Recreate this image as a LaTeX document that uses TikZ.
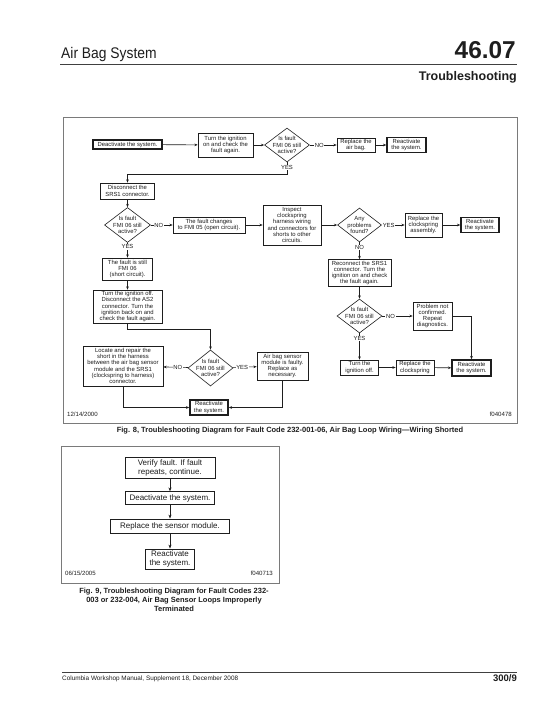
\documentclass[tikz,border=0pt]{standalone}
\usepackage{fontspec}
\setmainfont{Liberation Sans}
\newfontfamily\hdrfont[FakeStretch=0.9]{Liberation Sans}
\usetikzlibrary{shapes.geometric,arrows.meta}
\definecolor{ink}{HTML}{1E1E1E}
\definecolor{framec}{HTML}{7A7A7A}
\tikzset{
  bx/.style={draw=ink, line width=0.6pt, fill=white, text=ink, align=center, inner sep=0.5pt,
    font=\fontsize{5.9}{6.3}\selectfont},
  rbx/.style={bx, line width=1.4pt},
  dia/.style={diamond, draw=ink, line width=0.6pt, fill=white, inner sep=0pt,
    minimum width=45pt, minimum height=34pt},
  dtxt/.style={align=center, text=ink, inner sep=0pt, font=\fontsize{5.9}{6.3}\selectfont},
  yn/.style={fill=white, text=ink, inner sep=0.6pt, font=\fontsize{5.9}{6}\selectfont},
  arr/.style={draw=ink, line width=0.6pt, -{Stealth[length=3.3pt,width=2.6pt]}},
  bx9/.style={draw=ink, line width=0.8pt, fill=white, text=ink, align=center, inner sep=1pt,
    font=\fontsize{8}{9.1}\selectfont},
  arr9/.style={draw=ink, line width=0.8pt, -{Stealth[length=4pt,width=3pt]}},
  small/.style={text=ink, inner sep=0pt, font=\fontsize{6.1}{7}\selectfont},
  frm/.style={draw=framec, line width=0.9pt},
  rule/.style={draw=ink!85, line width=0.8pt},
}
\begin{document}
\begin{tikzpicture}[x=1pt, y=-1pt]
\useasboundingbox (0,0) rectangle (536,715);
\fill[white] (0,0) rectangle (536,715);

% ---------- header ----------
\node[anchor=base west, inner sep=0pt, text=ink, font=\hdrfont\fontsize{15.4}{16}\selectfont] (htitle) at (61,58.5) {Air Bag System};
\node[anchor=base east, inner sep=0pt, text=ink, font=\bfseries\fontsize{24.4}{26}\selectfont] (hnum) at (516,58) {46.07};
\draw[rule] (60,64) -- (517,64);
\node[anchor=base east, inner sep=0pt, text=ink, font=\bfseries\fontsize{12.5}{14}\selectfont] (hsub) at (517,80.5) {Troubleshooting};

% ---------- Fig. 8 ----------
\draw[frm] (63,117) rectangle (517,423);

\node[rbx, minimum width=69pt, minimum height=9pt] (n1) at (127.5,144.5) {Deactivate the system.};
\node[bx, minimum width=55pt, minimum height=24pt] (n2) at (225.5,145) {Turn the ignition\\on and check the\\fault again.};
\node[dia, label={[dtxt,name=d1t]center:{Is fault\\FMI 06 still\\active?}}] (d1) at (287,145) {};
\node[bx, minimum width=38pt, minimum height=14pt] (n3) at (356,145) {Replace the\\air bag.};
\node[rbx, minimum width=39pt, minimum height=15pt] (n4) at (406.5,145) {Reactivate\\the system.};

\node[bx, minimum width=54pt, minimum height=16pt] (n5) at (127.5,191) {Disconnect the\\SRS1 connector.};
\node[dia, minimum width=46pt, minimum height=35pt, label={[dtxt,name=d2t]center:{Is fault\\FMI 06 still\\active?}}] (d2) at (127.5,225) {};
\node[bx, minimum width=72pt, minimum height=16pt] (n6) at (209,225) {The fault changes\\to FMI 05 (open circuit).};
\node[bx, minimum width=58pt, minimum height=40pt] (n7) at (292,225) {Inspect\\clockspring\\harness wiring\\and connectors for\\shorts to other\\circuits.};
\node[dia, minimum width=44pt, label={[dtxt,name=d3t]center:{Any\\problems\\found?}}] (d3) at (359.5,225) {};
\node[bx, minimum width=37pt, minimum height=24pt] (n8) at (423.5,225) {Replace the\\clockspring\\assembly.};
\node[rbx, minimum width=38pt, minimum height=15pt] (n9) at (480,225) {Reactivate\\the system.};

\node[bx, minimum width=50pt, minimum height=22pt] (n10) at (127.5,269) {The fault is still\\FMI 06\\(short circuit).};
\node[bx, minimum width=69pt, minimum height=33pt] (n11) at (127.5,306.5) {Turn the ignition off.\\Disconnect the AS2\\connector. Turn the\\ignition back on and\\check the fault again.};

\node[bx, minimum width=63pt, minimum height=27pt] (n12) at (359.5,273) {Reconnect the SRS1\\connector. Turn the\\ignition on and check\\the fault again.};
\node[dia, label={[dtxt,name=d4t]center:{Is fault\\FMI 06 still\\active?}}] (d4) at (359.5,316) {};
\node[bx, minimum width=39pt, minimum height=28pt] (n13) at (432.5,316) {Problem not\\confirmed.\\Repeat\\diagnostics.};
\node[bx, minimum width=38pt, minimum height=15pt] (n14) at (359.5,367.5) {Turn the\\ignition off.};
\node[bx, minimum width=38pt, minimum height=15pt] (n15) at (415,367.5) {Replace the\\clockspring};
\node[rbx, minimum width=39pt, minimum height=16pt] (n16) at (471.5,368) {Reactivate\\the system.};

\node[dia, minimum height=36pt, label={[dtxt,name=d5t]center:{Is fault\\FMI 06 still\\active?}}] (d5) at (210.5,368) {};
\node[bx, minimum width=80pt, minimum height=40pt] (n17) at (123,366) {Locate and repair the\\short in the harness\\between the air bag sensor\\module and the SRS1\\(clockspring to harness)\\connector.};
\node[bx, minimum width=51pt, minimum height=28pt] (n18) at (282.5,366) {Air bag sensor\\module is faulty.\\Replace as\\necessary.};
\node[rbx, minimum width=38pt, minimum height=15pt] (n19) at (209,407.5) {Reactivate\\the system.};

% connectors fig 8
\draw[arr] (n1) -- (n2);
\draw[arr] (n2) -- (d1);
\draw[arr] (d1) -- node[yn,pos=0.35] (l1) {NO} (n3);
\draw[arr] (n3) -- (n4);
\draw[arr] (d1.south) -- node[yn,pos=0.45] (l2) {YES} ++(0,12) -| (n5.north);
\draw[arr] (n5) -- (d2);
\draw[arr] (d2) -- node[yn,pos=0.37] (l3) {NO} (n6);
\draw[arr] (n6) -- (n7);
\draw[arr] (n7) -- (d3);
\draw[arr] (d3) -- node[yn,pos=0.3] (l4) {YES} (n8);
\draw[arr] (n8) -- (n9);
\draw[arr] (d3) -- node[yn,pos=0.3] (l5) {NO} (n12);
\draw[arr] (n12) -- (d4);
\draw[arr] (d4) -- node[yn,pos=0.27] (l6) {NO} (n13);
\draw[arr] (d4) -- node[yn,pos=0.2] (l7) {YES} (n14);
\draw[arr] (n14) -- (n15);
\draw[arr] (n15) -- (n16);
\draw[arr] (n13.east) -| (n16.north);
\draw[arr] (d2) -- node[yn,pos=0.27] (l8) {YES} (n10);
\draw[arr] (n10) -- (n11);
\draw[arr] (n11.south) -- ++(0,6) -| (d5.north);
\draw[arr] (d5) -- node[yn,pos=0.42] (l9) {NO} (n17);
\draw[arr] (d5) -- node[yn,pos=0.4] (l10) {YES} (n18);
\draw[arr] (n17.south) |- (n19.west);
\draw[arr] (n18.south) |- (n19.east);

\node[small, anchor=west] (date8) at (67,414) {12/14/2000};
\node[small, anchor=east] (code8) at (512,414) {f040478};

\node[inner sep=0pt, text=ink, font=\bfseries\fontsize{7.5}{9}\selectfont] (cap8) at (290,431) {Fig. 8, Troubleshooting Diagram for Fault Code 232-001-06, Air Bag Loop Wiring—Wiring Shorted};

% ---------- Fig. 9 ----------
\draw[frm] (61,446) rectangle (279,583);
\node[bx9, minimum width=90pt, minimum height=21pt] (m1) at (170,467.5) {Verify fault. If fault\\repeats, continue.};
\node[bx9, minimum width=89pt, minimum height=13pt] (m2) at (170,498.3) {Deactivate the system.};
\node[bx9, minimum width=119pt, minimum height=14pt] (m3) at (170,526) {Replace the sensor module.};
\node[bx9, minimum width=48.5pt, minimum height=20pt] (m4) at (170,559) {Reactivate\\the system.};
\draw[arr9] (m1) -- (m2);
\draw[arr9] (m2) -- (m3);
\draw[arr9] (m3) -- (m4);
\node[small, anchor=west] (date9) at (65,573) {06/15/2005};
\node[small, anchor=east] (code9) at (273,573) {f040713};
\node[align=center, inner sep=0pt, text=ink, font=\bfseries\fontsize{7.5}{9.2}\selectfont] (cap9) at (174,600) {Fig. 9, Troubleshooting Diagram for Fault Codes 232-\\003 or 232-004, Air Bag Sensor Loops Improperly\\Terminated};

% ---------- footer ----------
\draw[rule] (62,672) -- (517,672);
\node[anchor=base west, inner sep=0pt, text=ink, font=\fontsize{6.4}{7}\selectfont] (foot) at (62,680.5) {Columbia Workshop Manual, Supplement 18, December 2008};
\node[anchor=base east, inner sep=0pt, text=ink, font=\bfseries\fontsize{9.5}{10}\selectfont] (page) at (517,681.5) {300/9};
\end{tikzpicture}
\end{document}
